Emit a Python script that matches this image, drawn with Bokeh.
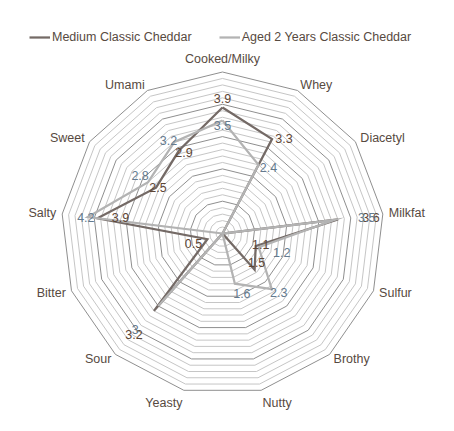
import numpy as np
from bokeh.plotting import figure
from bokeh.models import Range1d, Legend, LegendItem, ColumnDataSource
from bokeh.core.properties import value
from bokeh.embed import file_html
from bokeh.resources import INLINE

# ---------------- data ----------------
categories = ["Cooked/Milky", "Whey", "Diacetyl", "Milkfat", "Sulfur", "Brothy",
              "Nutty", "Yeasty", "Sour", "Bitter", "Salty", "Sweet", "Umami"]
medium = [3.9, 3.3, 0, 3.6, 1.1, 1.5, 0, 0, 3.2, 0.5, 3.9, 2.5, 2.9]
aged = [3.5, 2.4, 0, 3.5, 1.2, 2.3, 1.6, 0, 3.0, 0, 4.2, 2.8, 3.2]
series_names = ["Medium Classic Cheddar", "Aged 2 Years Classic Cheddar"]
axis_max = 5.0
major_unit = 1.0
minor_unit = 0.2

# ---------------- styling ----------------
# data-label nudges in screen px (+x right, +y down)
medium_label_dx = [0, 12, 0, 33, 5, 2, 0, 0, -20, -14, 23, 2, 5]
medium_label_dy = [-9, -1, 0, -2, -2, -7, 0, 0, 24, 4, -1, 0, 2]
aged_label_dx = [0, 10, 0, 32, 23, 7, 7, 0, -23, 0, -2, -8, -6]
aged_label_dy = [5, 3, 0, -2, 5, 3, 10, 0, 23, 0, 0, -7, -1]

FONT = "Liberation Sans"
FS = "12.5px"
TEXT_COLOR = "#574a41"
MEDIUM_COLOR = "#746a66"
AGED_COLOR = "#b3b3b3"
MEDIUM_LABEL_COLOR = "#5e4636"
AGED_LABEL_COLOR = "#647a8e"
MINOR_COLOR = "#c6c6c6"
MAJOR_COLOR = "#8f8f8f"

W, H = 438, 415
S = 32.3            # px per unit
CX, CY = 222, 233   # center in figure px (from left, from top)

p = figure(width=W, height=H, output_backend="svg", toolbar_location=None,
           x_range=Range1d(-CX / S, (W - CX) / S),
           y_range=Range1d(-(H - CY) / S, CY / S),
           min_border=0, outline_line_color=None)
p.axis.visible = False
p.grid.visible = False
p.background_fill_color = "white"

n = len(categories)
theta = np.arange(n) * 2 * np.pi / n
sin_t, cos_t = np.sin(theta), np.cos(theta)


def ring(r):
    xs = list(r * sin_t) + [r * sin_t[0]]
    ys = list(r * cos_t) + [r * cos_t[0]]
    return xs, ys


levels = np.round(np.arange(minor_unit, axis_max + 1e-9, minor_unit), 6)
minor_xs, minor_ys, major_xs, major_ys = [], [], [], []
for lv in levels:
    xs, ys = ring(lv)
    if abs(lv / major_unit - round(lv / major_unit)) < 1e-6:
        major_xs.append(xs); major_ys.append(ys)
    else:
        minor_xs.append(xs); minor_ys.append(ys)
p.multi_line(minor_xs, minor_ys, line_color=MINOR_COLOR, line_width=1)
p.multi_line(major_xs, major_ys, line_color=MAJOR_COLOR, line_width=1)

# series
renderers = []
for vals, col in ((medium, MEDIUM_COLOR), (aged, AGED_COLOR)):
    v = np.array(vals, dtype=float)
    xs = list(v * sin_t) + [v[0] * sin_t[0]]
    ys = list(v * cos_t) + [v[0] * cos_t[0]]
    r = p.line(xs, ys, line_color=col, line_width=2.25, line_join="miter")
    renderers.append(r)

# data labels
for vals, dxs, dys, col in ((medium, medium_label_dx, medium_label_dy, MEDIUM_LABEL_COLOR),
                            (aged, aged_label_dx, aged_label_dy, AGED_LABEL_COLOR)):
    lx, ly, lt = [], [], []
    for i, v in enumerate(vals):
        if v == 0:
            continue
        lx.append(v * sin_t[i] + dxs[i] / S)
        ly.append(v * cos_t[i] - dys[i] / S)
        lt.append(f"{v:g}")
    p.text(x=lx, y=ly, text=lt, text_font=value(FONT), text_font_size=FS,
           text_color=col, text_align="center", text_baseline="middle")

# category labels
pad = 6 / S
cx_, cy_, ct_, ca_, cb_ = [], [], [], [], []
for i, c in enumerate(categories):
    x = (axis_max + pad) * sin_t[i]
    y = (axis_max + pad) * cos_t[i]
    align = "left" if sin_t[i] > 0.1 else ("right" if sin_t[i] < -0.1 else "center")
    base = "bottom" if cos_t[i] > 0.95 else ("top" if cos_t[i] < -0.95 else "middle")
    cx_.append(x); cy_.append(y); ct_.append(c); ca_.append(align); cb_.append(base)
src = ColumnDataSource(dict(x=cx_, y=cy_, t=ct_, a=ca_, b=cb_))
p.text(x="x", y="y", text="t", text_align="a", text_baseline="b", source=src,
       text_font=value(FONT), text_font_size=FS, text_color=TEXT_COLOR)

legend = Legend(items=[LegendItem(label=series_names[0], renderers=[renderers[0]]),
                       LegendItem(label=series_names[1], renderers=[renderers[1]])],
                orientation="horizontal", location=(29, 368),
                padding=0, margin=0, spacing=27, glyph_width=21, glyph_height=20,
                label_height=20, label_standoff=2,
                label_text_font=FONT, label_text_font_size=FS,
                label_text_color=TEXT_COLOR,
                border_line_alpha=0, background_fill_alpha=0)
p.add_layout(legend, "center")

open("out.html", "w").write(file_html(p, INLINE))
